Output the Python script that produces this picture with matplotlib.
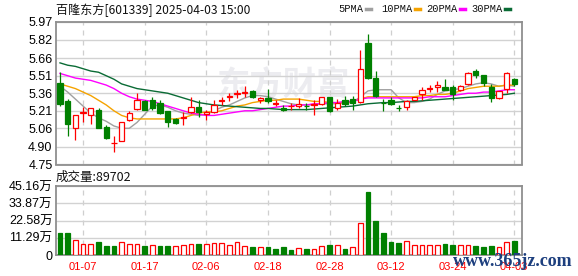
import numpy as np
import matplotlib.pyplot as plt

plt.rcParams['font.family'] = ['Noto Sans CJK SC', 'DejaVu Sans']

# trading days shown (2025)
dates = ["01-02", "01-03", "01-06", "01-07", "01-08", "01-09", "01-10", "01-13", "01-14", "01-15",
         "01-16", "01-17", "01-20", "01-21", "01-22", "01-23", "01-24", "01-27", "02-05", "02-06",
         "02-07", "02-10", "02-11", "02-12", "02-13", "02-14", "02-17", "02-18", "02-19", "02-20",
         "02-21", "02-24", "02-25", "02-26", "02-27", "02-28", "03-03", "03-04", "03-05", "03-06",
         "03-07", "03-10", "03-11", "03-12", "03-13", "03-14", "03-17", "03-18", "03-19", "03-20",
         "03-21", "03-24", "03-25", "03-26", "03-27", "03-28", "03-31", "04-01", "04-02", "04-03"]
tick_dates = ["01-07", "01-17", "02-06", "02-18", "02-28", "03-12", "03-24", "04-03"]

opens = [5.45, 5.29, 5.06, 5.19, 5.17, 5.22, 5.07, 4.93, 4.955, 5.13,
         5.225, 5.295, 5.30, 5.28, 5.205, 5.14, 5.15, 5.20, 5.24, 5.18,
         5.20, 5.29, 5.33, 5.35, 5.36, 5.38, 5.30, 5.32, 5.27, 5.235,
         5.25, 5.25, 5.255, 5.26, 5.27, 5.33, 5.235, 5.30, 5.31, 5.285,
         5.79, 5.49, 5.28, 5.305, 5.235, 5.245, 5.305, 5.35, 5.40, 5.41,
         5.41, 5.41, 5.39, 5.44, 5.55, 5.515, 5.415, 5.32, 5.40, 5.48]
highs = [5.54, 5.31, 5.17, 5.245, 5.235, 5.235, 5.09, 4.99, 5.115, 5.21,
         5.36, 5.30, 5.325, 5.30, 5.21, 5.15, 5.20, 5.33, 5.30, 5.22,
         5.30, 5.33, 5.36, 5.39, 5.42, 5.39, 5.33, 5.40, 5.30, 5.26,
         5.28, 5.32, 5.28, 5.30, 5.33, 5.33, 5.31, 5.335, 5.335, 5.73,
         5.87, 5.55, 5.31, 5.33, 5.26, 5.30, 5.33, 5.41, 5.43, 5.465,
         5.48, 5.43, 5.43, 5.54, 5.57, 5.52, 5.44, 5.38, 5.545, 5.49]
lows = [5.25, 4.99, 4.96, 5.11, 5.10, 5.06, 4.965, 4.855, 4.955, 5.125,
        5.22, 5.215, 5.22, 5.185, 5.07, 5.10, 5.09, 5.19, 5.16, 5.13,
        5.19, 5.26, 5.29, 5.32, 5.33, 5.32, 5.28, 5.28, 5.25, 5.21,
        5.22, 5.23, 5.22, 5.17, 5.26, 5.20, 5.22, 5.25, 5.22, 5.28,
        5.48, 5.33, 5.21, 5.26, 5.21, 5.22, 5.30, 5.30, 5.37, 5.37,
        5.385, 5.30, 5.38, 5.43, 5.49, 5.42, 5.285, 5.31, 5.36, 5.42]
closes = [5.27, 5.10, 5.17, 5.20, 5.23, 5.065, 4.975, 4.935, 5.115, 5.195,
          5.30, 5.22, 5.23, 5.195, 5.11, 5.105, 5.16, 5.24, 5.20, 5.20,
          5.26, 5.30, 5.34, 5.36, 5.37, 5.33, 5.32, 5.29, 5.275, 5.22,
          5.255, 5.27, 5.25, 5.265, 5.33, 5.21, 5.28, 5.27, 5.28, 5.57,
          5.49, 5.34, 5.275, 5.265, 5.23, 5.29, 5.325, 5.39, 5.405, 5.43,
          5.39, 5.355, 5.425, 5.53, 5.515, 5.45, 5.32, 5.375, 5.535, 5.435]

# volume in 万 (10k shares), 1 = red bar, 0 = green bar
volumes = [14.6, 14.6, 9.9, 7.5, 7.5, 8.8, 6.2, 6.2, 8.6, 6.9,
           7.5, 6.2, 6.7, 6.2, 6.2, 6.0, 6.7, 7.3, 7.3, 7.3,
           8.0, 8.0, 6.7, 8.6, 6.0, 5.4, 5.2, 5.4, 4.1, 5.4,
           3.4, 4.5, 4.1, 4.1, 5.8, 6.7, 6.7, 4.1, 5.2, 20.9,
           41.5, 22.1, 14.4, 8.6, 8.0, 9.0, 6.7, 6.7, 6.7, 6.7,
           7.3, 6.7, 6.7, 6.7, 6.0, 5.4, 6.0, 5.2, 8.6, 8.9702]
vol_up = [0, 0, 1, 1, 1, 0, 0, 0, 1, 1,
          1, 0, 1, 0, 0, 1, 1, 1, 0, 1,
          1, 1, 1, 1, 1, 0, 1, 0, 0, 0,
          0, 1, 0, 1, 1, 0, 1, 0, 1, 1,
          0, 0, 0, 0, 0, 1, 1, 1, 1, 1,
          0, 0, 1, 1, 0, 0, 0, 1, 1, 0]

ma5 = [5.42, 5.37, 5.31, 5.25, 5.19, 5.15, 5.12, 5.08, 5.06, 5.06,
       5.11, 5.18, 5.25, 5.26, 5.24, 5.21, 5.19, 5.18, 5.17, 5.18,
       5.21, 5.24, 5.26, 5.29, 5.32, 5.34, 5.34, 5.33, 5.31, 5.29,
       5.27, 5.26, 5.26, 5.26, 5.27, 5.27, 5.27, 5.28, 5.28, 5.33,
       5.38, 5.39, 5.39, 5.39, 5.32, 5.28, 5.28, 5.29, 5.31, 5.35,
       5.38, 5.39, 5.40, 5.42, 5.44, 5.45, 5.44, 5.42, 5.43, 5.42]
ma10 = [5.44, 5.42, 5.40, 5.37, 5.34, 5.30, 5.26, 5.21, 5.17, 5.15,
        5.14, 5.14, 5.14, 5.14, 5.14, 5.14, 5.15, 5.17, 5.19, 5.20,
        5.20, 5.21, 5.23, 5.25, 5.26, 5.28, 5.29, 5.30, 5.30, 5.31,
        5.31, 5.31, 5.30, 5.29, 5.29, 5.28, 5.28, 5.28, 5.29, 5.31,
        5.33, 5.33, 5.33, 5.33, 5.33, 5.33, 5.33, 5.34, 5.34, 5.35,
        5.35, 5.36, 5.38, 5.40, 5.41, 5.42, 5.42, 5.42, 5.43, 5.43]
ma20 = [5.53, 5.51, 5.49, 5.48, 5.47, 5.45, 5.43, 5.40, 5.36, 5.33,
        5.31, 5.30, 5.29, 5.27, 5.25, 5.23, 5.21, 5.19, 5.18, 5.17,
        5.17, 5.18, 5.19, 5.20, 5.21, 5.21, 5.22, 5.23, 5.24, 5.25,
        5.25, 5.26, 5.26, 5.27, 5.27, 5.28, 5.28, 5.29, 5.29, 5.31,
        5.32, 5.32, 5.32, 5.32, 5.32, 5.32, 5.32, 5.32, 5.33, 5.33,
        5.33, 5.34, 5.35, 5.36, 5.36, 5.37, 5.37, 5.38, 5.39, 5.39]
ma30 = [5.62, 5.60, 5.59, 5.57, 5.55, 5.54, 5.51, 5.48, 5.44, 5.42,
        5.40, 5.39, 5.38, 5.37, 5.36, 5.34, 5.32, 5.30, 5.28, 5.27,
        5.26, 5.255, 5.25, 5.245, 5.24, 5.235, 5.23, 5.23, 5.225, 5.22,
        5.22, 5.22, 5.22, 5.225, 5.23, 5.235, 5.24, 5.245, 5.25, 5.26,
        5.27, 5.275, 5.28, 5.28, 5.285, 5.29, 5.29, 5.295, 5.30, 5.305,
        5.31, 5.315, 5.32, 5.325, 5.33, 5.335, 5.34, 5.345, 5.35, 5.36]

price_ticks = [4.75, 4.90, 5.06, 5.21, 5.36, 5.51, 5.66, 5.82, 5.97]
vol_ticks = [0, 11.29, 22.58, 33.87, 45.16]

RED = '#ff0000'
GREEN = '#008000'
FRAME = '#8f8f8f'
GRID = '#d2d2d2'

W, H = 578, 276
fig = plt.figure(figsize=(W / 100, H / 100), dpi=100)
ax = fig.add_axes([56 / W, 1 - 164.5 / H, 466 / W, 142.5 / H])
axv = fig.add_axes([56 / W, 1 - 255 / H, 466 / W, 69 / H])

x = np.arange(len(dates))
o = np.array(opens); c = np.array(closes)
hi = np.array(highs); lo = np.array(lows)
up = c >= o

# watermark
ax.text(29, 5.42, "东方财富", fontsize=24, color='#ececf0', fontweight='bold',
        ha='center', va='center', zorder=0)

# moving averages
ax.plot(x, ma5, color='#a0a0a0', lw=1.0, zorder=2)
ax.plot(x, ma10, color='#f5a300', lw=1.0, zorder=2)
ax.plot(x, ma20, color='#ff00ff', lw=1.0, zorder=2)
ax.plot(x, ma30, color='#0a6b35', lw=1.0, zorder=2)

# candles
body_top = np.maximum(o, c)
body_bot = np.minimum(o, c)
cols = np.where(up, RED, GREEN)
ax.vlines(x, body_top, hi, colors=cols, lw=0.9, zorder=3)
ax.vlines(x, lo, body_bot, colors=cols, lw=0.9, zorder=3)
ax.bar(x, body_top - body_bot, bottom=body_bot, width=0.68,
       color=np.where(up, 'white', GREEN), edgecolor=cols, lw=0.9, zorder=4)

# volume
vcols = [RED if v else GREEN for v in vol_up]
axv.bar(x, volumes, width=0.62, color=['white' if v else GREEN for v in vol_up],
        edgecolor=vcols, lw=0.9, zorder=3)

tick_pos = [dates.index(d) for d in tick_dates]
for a in (ax, axv):
    a.set_xlim(-0.52, 60.0)
    a.set_xticks(tick_pos)
    for p in tick_pos:
        a.axvline(p, color='#cfcfcf', lw=0.9, ls=(0, (4, 4)), zorder=1)
    for s in a.spines.values():
        s.set_color(FRAME)
        s.set_linewidth(1.3)
    a.tick_params(length=0, labelsize=9, pad=2.5)

ax.set_ylim(4.75, 5.97)
ax.set_yticks(price_ticks)
ax.set_yticklabels(["%.2f" % v for v in price_ticks], family='Liberation Sans')
ax.yaxis.grid(True, color=GRID, lw=1.0, zorder=0)
ax.set_xticklabels([])

axv.set_ylim(0, 45.16)
axv.set_yticks(vol_ticks)
axv.set_yticklabels(["0"] + ["%.2f万" % v for v in vol_ticks[1:]],
                    family=['Liberation Sans', 'Noto Sans CJK SC'])
axv.yaxis.grid(True, color=GRID, lw=1.0, zorder=0)
axv.set_xticklabels(tick_dates, color=RED, fontsize=8, family='Liberation Sans')
axv.tick_params(axis='x', pad=5)

fig.text(56 / W, 1 - 10 / H, "百隆东方[601339] 2025-04-03 15:00", fontsize=8.7,
         va='center', ha='left', color='#111111')
fig.text(56 / W, 1 - 177 / H, "成交量:%d" % round(volumes[-1] * 10000), fontsize=9,
         va='center', ha='left', color='#111111')

legend = [("5PMA", '#a0a0a0', 338), ("10PMA", '#f5a300', 381),
          ("20PMA", '#ff00ff', 426), ("30PMA", '#0a6b35', 471)]
for name, col, lx in legend:
    fig.text(lx / W, 1 - 9 / H, name, fontsize=7.5, family='Liberation Mono',
             va='center', ha='left', color='#111111')
    tw = len(name) * 6.2
    fig.add_artist(plt.Line2D([(lx + tw + 3) / W, (lx + tw + 8) / W],
                              [1 - 9 / H, 1 - 9 / H], color=col, lw=2.5))

fig.text(513 / W, 1 - 261 / H, "www.365jz.com", fontsize=13, family='Liberation Serif',
         fontweight='bold', color='#1d3f7e', ha='center', va='center')

fig.savefig("out.png", dpi=100)
